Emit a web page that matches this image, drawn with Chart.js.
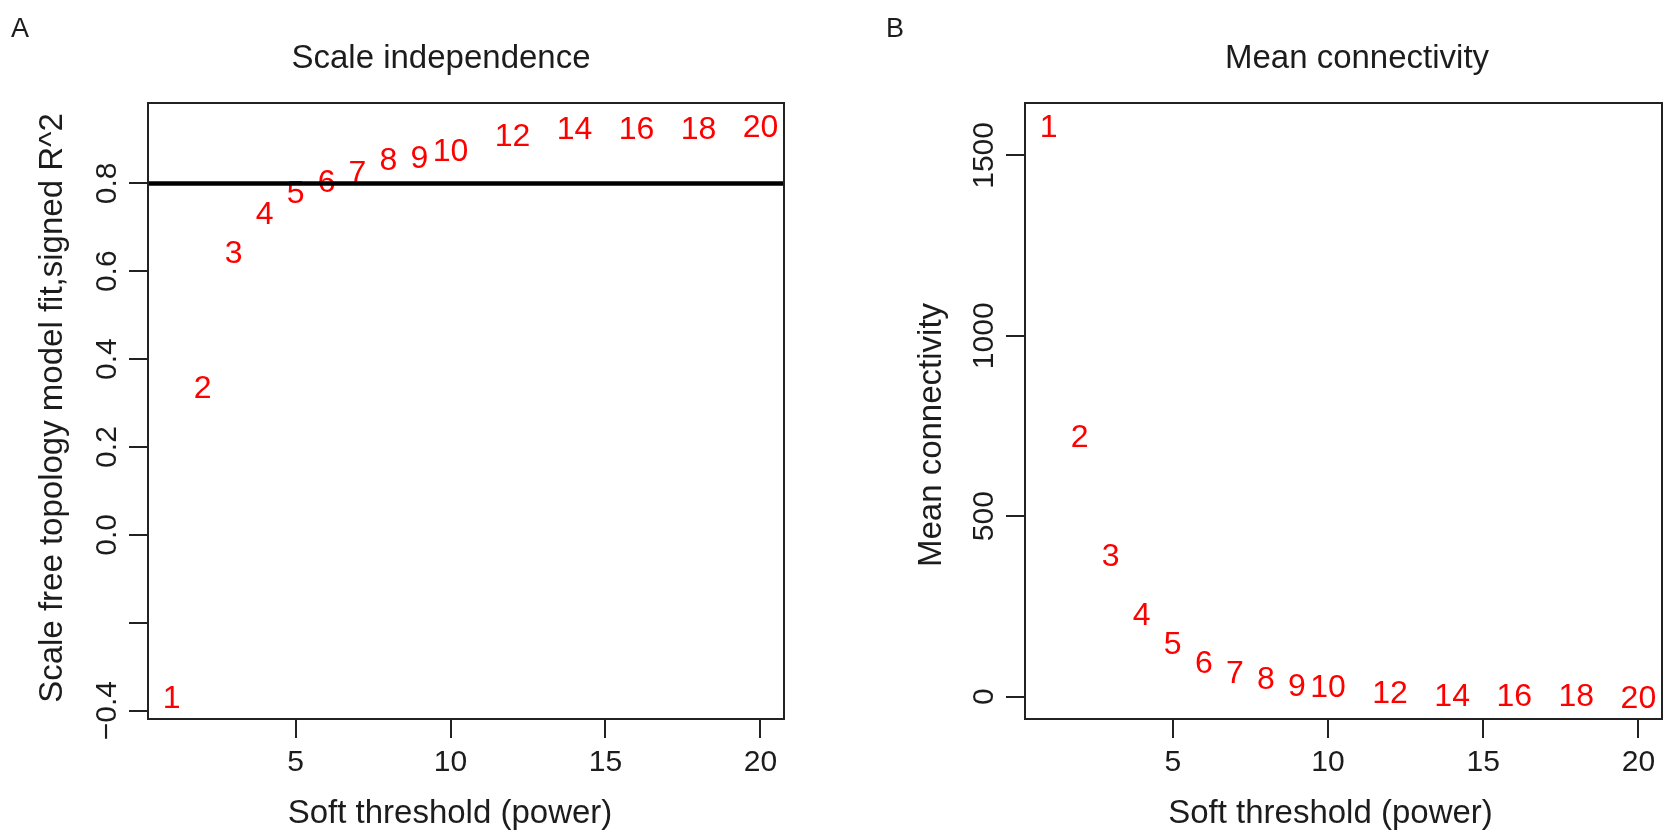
<!DOCTYPE html>
<html>
<head>
<meta charset="utf-8">
<script src="https://cdn.jsdelivr.net/npm/chart.js@4.4.1/dist/chart.umd.min.js"></script>
<style>
  html, body { margin: 0; padding: 0; background: #fff; }
  #wrap { position: relative; width: 1677px; height: 840px; overflow: hidden; }
  canvas { position: absolute; top: 0; }
  #panelA { left: 0; }
  #panelB { left: 838px; }
</style>
</head>
<body>
<div id="wrap">
  <canvas id="panelA" width="838" height="840"></canvas>
  <canvas id="panelB" width="839" height="840"></canvas>
</div>
<script>
// soft-thresholding powers tested
const powers = [1, 2, 3, 4, 5, 6, 7, 8, 9, 10, 12, 14, 16, 18, 20];
// scale free topology fit (signed R^2)
const sftR2 = [-0.367, 0.337, 0.645, 0.734, 0.781, 0.806, 0.828, 0.856, 0.862, 0.878, 0.911, 0.926, 0.926, 0.926, 0.931];
// mean connectivity
const meanK = [1582, 723, 393, 231, 150, 98, 68, 53, 34, 31, 14, 6, 5, 5, 1];
const r2Cutoff = 0.8;

const xTicks = [5, 10, 15, 20];
const sftTicks = [-0.4, -0.2, 0, 0.2, 0.4, 0.6, 0.8];
const sftTickLabels = ['\u22120.4', '', '0.0', '0.2', '0.4', '0.6', '0.8'];
const kTicks = [0, 500, 1000, 1500];
const kTickLabels = ['0', '500', '1000', '1500'];

const FONT = '"Liberation Sans", Arial, Helvetica, sans-serif';
const INK = '#1c1c1c';

// R pads the data range by 4% on each side
function rRange(vals) {
  const lo = Math.min(...vals), hi = Math.max(...vals);
  const pad = (hi - lo) * 0.04;
  return [lo - pad, hi + pad];
}

// draws the R-like bits: point labels, cutoff line, box, rotated y labels, titles
const rPlot = {
  id: 'rPlot',
  afterDatasetsDraw(chart, args, opts) {
    const { ctx, chartArea: a, scales: { y } } = chart;
    const midX = (a.left + a.right) / 2, midY = (a.top + a.bottom) / 2;
    ctx.save();

    // numbers as plotting symbols
    const meta = chart.getDatasetMeta(0);
    ctx.fillStyle = '#ff0000';
    ctx.font = '32px ' + FONT;
    ctx.textAlign = 'center';
    ctx.textBaseline = 'alphabetic';
    meta.data.forEach((pt, i) => {
      ctx.fillText(String(powers[i]), pt.x, pt.y + 32 * 0.358);
    });

    if (opts.cutoff != null) {
      const py = y.getPixelForValue(opts.cutoff);
      ctx.strokeStyle = '#000';
      ctx.lineWidth = 4.5;
      ctx.beginPath();
      ctx.moveTo(a.left, py);
      ctx.lineTo(a.right, py);
      ctx.stroke();
    }

    ctx.strokeStyle = '#222';
    ctx.lineWidth = 2;
    ctx.strokeRect(a.left, a.top, a.width, a.height);

    // y tick labels parallel to the axis
    ctx.fillStyle = INK;
    ctx.font = '30px ' + FONT;
    opts.yTicks.forEach((v, i) => {
      const lab = opts.yLabels[i];
      if (!lab) return;
      ctx.save();
      ctx.translate(a.left - 32, y.getPixelForValue(v));
      ctx.rotate(-Math.PI / 2);
      ctx.fillText(lab, 0, 0);
      ctx.restore();
    });

    // axis titles
    ctx.font = '33px ' + FONT;
    ctx.fillText(opts.xTitle, midX + opts.xTitleShift, 823);
    ctx.save();
    ctx.translate(a.left - opts.yTitleGap, midY + opts.yTitleShift);
    ctx.rotate(-Math.PI / 2);
    ctx.fillText(opts.yTitle, 0, 0);
    ctx.restore();

    // main title
    ctx.fillText(opts.title, opts.titleX, 68);

    // panel letter
    ctx.textAlign = 'left';
    ctx.font = '27px ' + FONT;
    ctx.fillText(opts.letter, opts.letterX, 37);

    ctx.restore();
  }
};

function makePanel(id, vals, yTicks, yLabels, extra) {
  const [xMin, xMax] = rRange(powers);
  const [yMin, yMax] = rRange(vals);
  const tickGrid = { drawOnChartArea: false, drawTicks: true, tickLength: 19, color: '#222', lineWidth: 2 };
  return new Chart(document.getElementById(id), {
    type: 'scatter',
    data: {
      datasets: [{
        data: powers.map((p, i) => ({ x: p, y: vals[i] })),
        pointRadius: 0,
        pointHoverRadius: 0,
        showLine: false
      }]
    },
    options: {
      responsive: false,
      animation: false,
      events: [],
      layout: { padding: { top: 103, left: 0, right: extra.padRight, bottom: 0 } },
      plugins: {
        legend: { display: false },
        tooltip: { enabled: false },
        rPlot: {
          cutoff: extra.cutoff,
          yTicks: yTicks,
          yLabels: yLabels,
          title: extra.title,
          titleX: extra.titleX,
          xTitle: 'Soft threshold (power)',
          xTitleShift: extra.xTitleShift,
          yTitle: extra.yTitle,
          yTitleGap: extra.yTitleGap,
          yTitleShift: extra.yTitleShift,
          letter: extra.letter,
          letterX: extra.letterX
        }
      },
      scales: {
        x: {
          type: 'linear',
          min: xMin,
          max: xMax,
          afterBuildTicks: s => { s.ticks = xTicks.map(v => ({ value: v })); },
          afterFit: s => { s.height = 121; },
          grid: tickGrid,
          border: { display: false },
          ticks: { color: INK, font: { size: 30, family: FONT }, padding: 7, maxRotation: 0, callback: v => String(v) }
        },
        y: {
          type: 'linear',
          min: yMin,
          max: yMax,
          afterBuildTicks: s => { s.ticks = yTicks.map(v => ({ value: v })); },
          afterFit: s => { s.width = extra.yWidth; },
          grid: tickGrid,
          border: { display: false },
          ticks: { display: false }
        }
      }
    },
    plugins: [rPlot]
  });
}

makePanel('panelA', sftR2, sftTicks, sftTickLabels, {
  cutoff: r2Cutoff, title: 'Scale independence', titleX: 441, letter: 'A', letterX: 11,
  yTitle: 'Scale free topology model fit,signed R^2', yTitleGap: 86, yTitleShift: -3,
  xTitleShift: -16, padRight: 54, yWidth: 148
});

makePanel('panelB', meanK, kTicks, kTickLabels, {
  cutoff: null, title: 'Mean connectivity', titleX: 519, letter: 'B', letterX: 48,
  yTitle: 'Mean connectivity', yTitleGap: 84, yTitleShift: 24,
  xTitleShift: -13, padRight: 15, yWidth: 187
});
</script>
</body>
</html>
